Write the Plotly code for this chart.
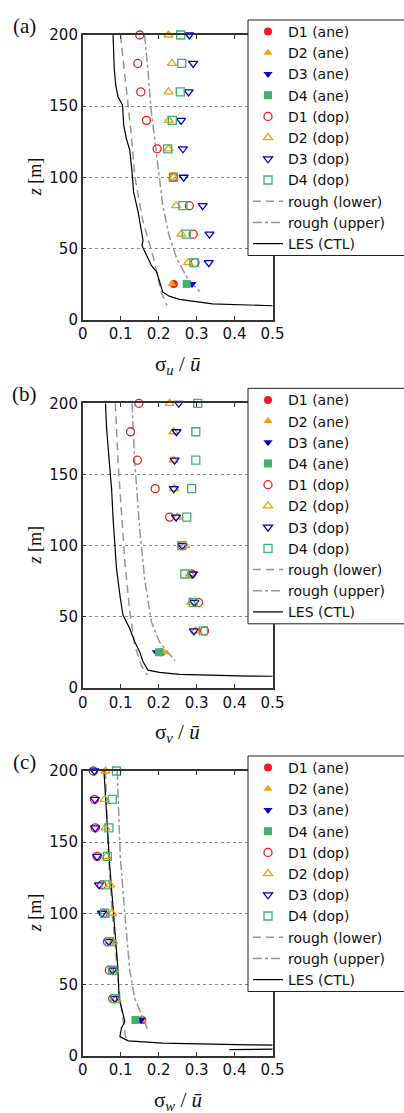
import plotly.graph_objects as go

# ---------------- data ----------------
Z_DOP = [200, 180, 160, 140, 120, 100, 80, 60, 40]
Z_ANE = [25]

# panel (a) sigma_u / u
A_D1_DOP = [0.150, 0.145, 0.153, 0.168, 0.196, 0.239, 0.281, 0.291, 0.296]
A_D2_DOP = [0.226, 0.235, 0.226, 0.227, 0.226, 0.239, 0.246, 0.260, 0.278]
A_D3_DOP = [0.281, 0.291, 0.279, 0.259, 0.264, 0.266, 0.316, 0.334, 0.332]
A_D4_DOP = [0.258, 0.261, 0.257, 0.236, 0.224, 0.239, 0.264, 0.273, 0.293]
A_D1_ANE = [0.240]
A_D2_ANE = [0.235]
A_D3_ANE = [0.288]
A_D4_ANE = [0.274]
A_LES_X = [0.080, 0.083, 0.087, 0.093, 0.105, 0.108, 0.115, 0.124, 0.130, 0.134, 0.146, 0.156,
           0.159, 0.156, 0.172, 0.181, 0.195, 0.202, 0.211, 0.228, 0.255, 0.342, 0.438, 0.52]
A_LES_Z = [200, 176.5, 164.8, 156.6, 150.7, 136.6, 127.2, 119.0, 103.8, 89.7, 75.6, 61.5,
           55.6, 52.1, 42.7, 38.0, 33.3, 26.3, 19.2, 16.4, 14.1, 11.0, 9.9, 9.5]
A_LOW_X = [0.0995, 0.115, 0.128, 0.137, 0.158, 0.187, 0.207, 0.222]
A_LOW_Z = [200, 160, 130, 101, 70, 42.7, 19, 9.9]
A_UP_X = [0.163, 0.172, 0.179, 0.190, 0.202, 0.211, 0.227, 0.248, 0.277, 0.314]
A_UP_Z = [200, 175, 150, 125, 100, 80, 59.6, 42.7, 28.6, 18]

# panel (b) sigma_v / u
B_D1_DOP = [0.148, 0.126, 0.144, 0.191, 0.229, 0.262, 0.287, 0.305, 0.321]
B_D2_DOP = [0.229, 0.239, 0.239, 0.241, 0.249, 0.270, 0.283, 0.286, 0.297]
B_D3_DOP = [0.253, 0.247, 0.242, 0.240, 0.246, 0.262, 0.290, 0.294, 0.293]
B_D4_DOP = [0.303, 0.298, 0.298, 0.287, 0.274, 0.261, 0.269, 0.291, 0.318]
B_D1_ANE = [0.207]
B_D2_ANE = [0.214]
B_D3_ANE = [0.194]
B_D4_ANE = [0.201]
B_LES_X = [0.060, 0.063, 0.070, 0.076, 0.080, 0.085, 0.089, 0.098, 0.106, 0.124, 0.137, 0.150,
           0.159, 0.172, 0.202, 0.255, 0.342, 0.438, 0.52]
B_LES_Z = [200, 182.4, 159, 140.2, 119.1, 100.4, 83.9, 65.2, 51.1, 41.7, 32.4, 25.3,
           18.3, 12.4, 10.8, 9.4, 8.7, 8.2, 8.1]
B_LOW_X = [0.086, 0.093, 0.102, 0.111, 0.124, 0.137, 0.154, 0.170]
B_LOW_Z = [200, 159, 123.8, 88.6, 53.5, 30, 15.9, 8.9]
B_UP_X = [0.130, 0.137, 0.150, 0.163, 0.181, 0.202, 0.243]
B_UP_Z = [200, 159, 112, 76.9, 46.4, 32.4, 19]

# panel (c) sigma_w / u
C_D1_DOP = [0.028, 0.031, 0.033, 0.038, 0.050, 0.054, 0.065, 0.070, 0.079]
C_D2_DOP = [0.060, 0.058, 0.060, 0.063, 0.072, 0.077, 0.080, 0.082, 0.089]
C_D3_DOP = [0.031, 0.032, 0.033, 0.038, 0.043, 0.051, 0.069, 0.079, 0.085]
C_D4_DOP = [0.089, 0.078, 0.069, 0.065, 0.061, 0.058, 0.070, 0.079, 0.085]
C_D1_ANE = [0.157]
C_D2_ANE = [0.157]
C_D3_ANE = [0.153]
C_D4_ANE = [0.139]
C_LES_X = [0.056, 0.060, 0.065, 0.071, 0.078, 0.085, 0.092, 0.096, 0.105, 0.111, 0.102, 0.098,
           0.120, 0.211, 0.438, 0.60, 0.60, 0.386]
C_LES_Z = [200, 180.8, 157.4, 134, 110.5, 87.1, 63.7, 40.3, 30.9, 23.9, 19.2, 13.3,
           10.3, 8.7, 7.5, 6.8, 4.6, 4.2]
C_LOW_X = [0.060, 0.067, 0.078, 0.089, 0.098, 0.115]
C_LOW_Z = [200, 145.7, 99.8, 63.7, 40.3, 9.8]
C_UP_X = [0.091, 0.099, 0.111, 0.124, 0.137, 0.172]
C_UP_Z = [200, 139.6, 99.8, 59.7, 40.3, 17.6]

X_TICKS = [0, 0.1, 0.2, 0.3, 0.4, 0.5]
X_TICKTEXT = ["0", "0.1", "0.2", "0.3", "0.4", "0.5"]
Y_TICKS = [0, 50, 100, 150, 200]
PANEL_LABELS = ["(a)", "(b)", "(c)"]
X_TITLES = ["σ<sub><i>u</i></sub> / <i>ū</i>", "σ<sub><i>v</i></sub> / <i>ū</i>",
            "σ<sub><i>w</i></sub> / <i>ū</i>"]
LEGEND_NAMES = ["D1 (ane)", "D2 (ane)", "D3 (ane)", "D4 (ane)",
                "D1 (dop)", "D2 (dop)", "D3 (dop)", "D4 (dop)",
                "rough (lower)", "rough (upper)", "LES (CTL)"]

# ---------------- styling ----------------
W, H = 404, 1113
SANS = "DejaVu Sans, Arial, Liberation Sans"
SERIF = "Times New Roman, Liberation Serif"
RED = "rgb(235,30,30)"
ORANGE = "rgb(240,160,0)"
BLUE = "rgb(0,0,200)"
GREEN = "rgb(60,179,113)"
GRAY = "rgb(150,150,150)"
COLORS = [RED, ORANGE, BLUE, GREEN]
SYM_FILLED = ["circle", "triangle-up", "triangle-down", "square"]
SYM_OPEN = ["circle-open", "triangle-up-open", "triangle-down-open", "square-open"]

X0, X1 = 82.7, 272.5
PANEL_TOPS = [35.0, 403.3, 771.0]
PH = 284.5

panels = [
    dict(ane=[A_D1_ANE, A_D2_ANE, A_D3_ANE, A_D4_ANE], dop=[A_D1_DOP, A_D2_DOP, A_D3_DOP, A_D4_DOP],
         low=(A_LOW_X, A_LOW_Z), up=(A_UP_X, A_UP_Z), les=(A_LES_X, A_LES_Z)),
    dict(ane=[B_D1_ANE, B_D2_ANE, B_D3_ANE, B_D4_ANE], dop=[B_D1_DOP, B_D2_DOP, B_D3_DOP, B_D4_DOP],
         low=(B_LOW_X, B_LOW_Z), up=(B_UP_X, B_UP_Z), les=(B_LES_X, B_LES_Z)),
    dict(ane=[C_D1_ANE, C_D2_ANE, C_D3_ANE, C_D4_ANE], dop=[C_D1_DOP, C_D2_DOP, C_D3_DOP, C_D4_DOP],
         low=(C_LOW_X, C_LOW_Z), up=(C_UP_X, C_UP_Z), les=(C_LES_X, C_LES_Z)),
]

fig = go.Figure()
layout = dict(width=W, height=H, margin=dict(l=0, r=0, t=0, b=0, autoexpand=False),
              paper_bgcolor="white", plot_bgcolor="white", showlegend=True,
              font=dict(family=SANS, size=15, color="#111"))
annotations = []
shapes = []

for i, p in enumerate(panels):
    sfx = "" if i == 0 else str(i + 1)
    xa, ya = "x" + sfx, "y" + sfx
    leg = "legend" + sfx
    lines = [
        (p["low"], dict(color=GRAY, width=1.5, dash="8px,5px"), LEGEND_NAMES[8]),
        (p["up"], dict(color=GRAY, width=1.5, dash="dashdot"), LEGEND_NAMES[9]),
        (p["les"], dict(color="black", width=1.2), LEGEND_NAMES[10]),
    ]
    line_traces = []
    for j, ((xs, zs), ln, nm) in enumerate(lines):
        line_traces.append(go.Scatter(x=xs, y=zs, mode="lines", line=ln, name=nm,
                                      xaxis=xa, yaxis=ya, legend=leg, legendrank=9 + j))
    marker_traces = []
    for k in range(4):
        marker_traces.append(go.Scatter(
            x=p["ane"][k], y=Z_ANE, mode="markers", name=LEGEND_NAMES[k],
            marker=dict(symbol=SYM_FILLED[k], color=COLORS[k], size=8, line=dict(width=0)),
            xaxis=xa, yaxis=ya, legend=leg, legendrank=k + 1, cliponaxis=False))
    for k in range(4):
        marker_traces.append(go.Scatter(
            x=p["dop"][k], y=Z_DOP, mode="markers", name=LEGEND_NAMES[k + 4],
            marker=dict(symbol=SYM_OPEN[k], color=COLORS[k], size=8, line=dict(width=1.3, color=COLORS[k])),
            xaxis=xa, yaxis=ya, legend=leg, legendrank=k + 5, cliponaxis=False))
    for t in line_traces + marker_traces:
        fig.add_trace(t)

    top = PANEL_TOPS[i]
    bot = top + PH
    axis_common = dict(showline=True, linecolor="#333", linewidth=1.5, mirror="ticks",
                       ticks="inside", ticklen=4, tickwidth=1, tickcolor="#333",
                       tickfont=dict(family=SANS, size=15, color="#111"),
                       zeroline=False)
    layout["xaxis" + sfx] = dict(axis_common, domain=[X0 / W, X1 / W], range=[0, 0.5],
                                 tickvals=X_TICKS, ticktext=X_TICKTEXT, showgrid=False,
                                 anchor=ya)
    layout["yaxis" + sfx] = dict(axis_common, domain=[1 - bot / H, 1 - top / H], range=[0, 200],
                                 tickvals=Y_TICKS, showgrid=True, gridcolor="#888",
                                 griddash="dot", gridwidth=1, anchor=xa)
    layout[leg] = dict(x=248 / W, y=1 - (top - 19) / H, xanchor="left", yanchor="top",
                       borderwidth=0, bgcolor="rgba(0,0,0,0)",
                       font=dict(family=SANS, size=14, color="#111"),
                       tracegroupgap=0)
    # legend frame (runs off the right edge like the reference)
    shapes.append(dict(type="rect", xref="paper", yref="paper", layer="above",
                       x0=248 / W, x1=420 / W, y0=1 - (top + 220.5) / H, y1=1 - (top - 15) / H,
                       line=dict(color="#222", width=1), fillcolor="white"))
    annotations.append(dict(text=PANEL_LABELS[i], x=24 / W, y=1 - (top - 9) / H, xref="paper",
                            yref="paper", showarrow=False, xanchor="center", yanchor="middle",
                            font=dict(family=SERIF, size=21, color="#111")))
    annotations.append(dict(text=X_TITLES[i], x=(X0 + X1) / 2 / W, y=1 - (bot + 45) / H,
                            xref="paper", yref="paper", showarrow=False, xanchor="center",
                            yanchor="middle",
                            font=dict(family=SERIF, size=21, color="#111")))
    annotations.append(dict(text="<i>z</i> [m]", x=35 / W, y=1 - (top + PH / 2) / H, xref="paper",
                            yref="paper", showarrow=False, textangle=-90, xanchor="center",
                            yanchor="middle",
                            font=dict(family=SERIF, size=18, color="#111")))

layout["annotations"] = annotations
layout["shapes"] = shapes
fig.update_layout(**layout)
fig.write_html("out.html")
